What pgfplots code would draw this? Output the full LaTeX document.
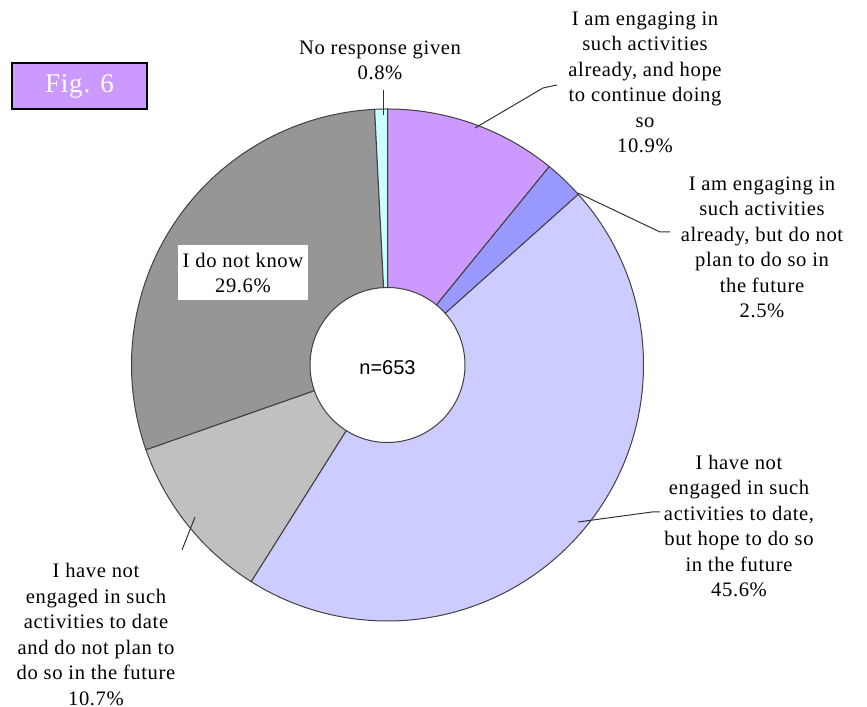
\documentclass[border=0pt]{standalone}
\usepackage{pgfplots}
\pgfplotsset{compat=1.18}
\usetikzlibrary{calc}
\usepackage{fontspec}
\setmainfont[LetterSpace=3]{Liberation Serif}
\newfontfamily\arialfont{Liberation Sans}

\definecolor{sPurple}{HTML}{CC99FF}
\definecolor{sBlue}{HTML}{9999FF}
\definecolor{sLav}{HTML}{CCCCFF}
\definecolor{sLGray}{HTML}{C0C0C0}
\definecolor{sDGray}{HTML}{969696}
\definecolor{sCyan}{HTML}{CCFFFF}

% donut geometry (1 axis unit = 1 px of the reference)
\def\Ro{128bp}
\def\Ri{38.75bp}
\def\k{3.5964} % 360/100.1 degrees per percent

% #1 cumulative start (%), #2 share (%), #3 colour
\newcommand\slice[3]{%
  \filldraw[fill=#3, draw=black!75, line width=0.5pt]
    ($(C)+({90-\k*(#1)}:\Ro)$)
    arc[start angle={90-\k*(#1)}, delta angle={-\k*(#2)}, radius=\Ro]
    -- ($(C)+({90-\k*(#1+#2)}:\Ri)$)
    arc[start angle={90-\k*(#1+#2)}, delta angle={\k*(#2)}, radius=\Ri]
    -- cycle;}

\tikzset{lbl/.style={align=center, inner sep=0pt, text=black,
  font=\fontsize{10.3bp}{12.75bp}\selectfont}}

\begin{document}
\begin{tikzpicture}
\begin{axis}[
    name=ax,
    x=0.5bp, y=0.5bp,
    xmin=0, xmax=867, ymin=0, ymax=707,
    hide axis, clip=false,
]
\coordinate (C) at (axis cs:387.5,342);
% slices: start, share
\slice{0}{10.9}{sPurple}
\slice{10.9}{2.5}{sBlue}
\slice{13.4}{45.6}{sLav}
\slice{59.0}{10.7}{sLGray}
\slice{69.7}{29.6}{sDGray}
\slice{99.3}{0.8}{sCyan}

\node[font=\arialfont\fontsize{10bp}{12bp}\selectfont] at (axis cs:387.5,339) {n=653};

% leader lines
\draw[black!80, line width=0.5pt] (axis cs:383,617) -- (axis cs:383,592);
\draw[black!80, line width=0.5pt] (axis cs:557,622) -- (axis cs:543,619) -- (axis cs:475,579);
\draw[black!80, line width=0.5pt] (axis cs:670,475) -- (axis cs:660,475) -- (axis cs:578,514);
\draw[black!80, line width=0.5pt] (axis cs:660,195) -- (axis cs:652,195) -- (axis cs:578,185);
\draw[black!80, line width=0.5pt] (axis cs:182,157) -- (axis cs:195,190);

% labels
\node[lbl] at (axis cs:380,646.5) {No response given\\0.8\%};
\node[lbl] at (axis cs:645,624.5) {I am engaging in\\such activities\\already, and hope\\to continue doing\\so\\10.9\%};
\node[lbl] at (axis cs:762,459.5) {I am engaging in\\such activities\\already, but do not\\plan to do so in\\the future\\2.5\%};
\node[lbl] at (axis cs:739,181) {I have not\\engaged in such\\activities to date,\\but hope to do so\\in the future\\45.6\%};
\node[lbl] at (axis cs:96,72.5) {I have not\\engaged in such\\activities to date\\and do not plan to\\do so in the future\\10.7\%};
\fill[white] (axis cs:178,462) rectangle (axis cs:308,407);
\node[lbl] at (axis cs:243,434) {I do not know\\29.6\%};

% figure tag
\filldraw[fill=sPurple, draw=black, line width=1.4bp] (axis cs:12,644) rectangle (axis cs:147,598);
\node[text=white, font=\fontsize{13.5bp}{15bp}\selectfont] at (axis cs:79.5,621) {Fig. 6};
\end{axis}
\pgfresetboundingbox
\path (ax.south west) rectangle (ax.north east);
\end{tikzpicture}
\end{document}
